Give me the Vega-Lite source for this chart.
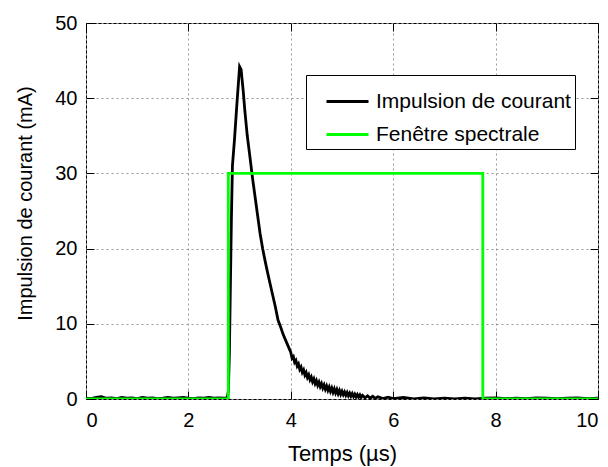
{
  "$schema": "https://vega.github.io/schema/vega-lite/v6.json",
  "width": 512,
  "height": 376,
  "autosize": "none",
  "padding": {"left": 86, "top": 23, "right": 10, "bottom": 68},
  "background": "white",
  "config": {
    "font": "Liberation Sans",
    "view": {"stroke": "black", "strokeWidth": 1},
    "axis": {"labelFont": "Liberation Sans", "titleFont": "Liberation Sans", "labelColor": "black", "titleColor": "black", "titleFontWeight": "normal"}
  },
  "data": {"values": [
    {"s":"Impulsion de courant","t":0,"v":0.1},{"s":"Impulsion de courant","t":0.1,"v":0.05},{"s":"Impulsion de courant","t":0.2,"v":0.2},{"s":"Impulsion de courant","t":0.3,"v":0.3},{"s":"Impulsion de courant","t":0.4,"v":0.1},{"s":"Impulsion de courant","t":0.5,"v":0.15},{"s":"Impulsion de courant","t":0.6,"v":0.05},{"s":"Impulsion de courant","t":0.7,"v":0.2},{"s":"Impulsion de courant","t":0.8,"v":0.1},{"s":"Impulsion de courant","t":0.9,"v":0.15},
    {"s":"Impulsion de courant","t":1.0,"v":0.05},{"s":"Impulsion de courant","t":1.1,"v":0.2},{"s":"Impulsion de courant","t":1.2,"v":0.1},{"s":"Impulsion de courant","t":1.3,"v":0.15},{"s":"Impulsion de courant","t":1.4,"v":0.05},{"s":"Impulsion de courant","t":1.5,"v":0.1},{"s":"Impulsion de courant","t":1.6,"v":0.2},{"s":"Impulsion de courant","t":1.7,"v":0.1},{"s":"Impulsion de courant","t":1.8,"v":0.15},{"s":"Impulsion de courant","t":1.9,"v":0.2},
    {"s":"Impulsion de courant","t":2.0,"v":0.1},{"s":"Impulsion de courant","t":2.1,"v":0.05},{"s":"Impulsion de courant","t":2.2,"v":0.15},{"s":"Impulsion de courant","t":2.3,"v":0.1},{"s":"Impulsion de courant","t":2.4,"v":0.2},{"s":"Impulsion de courant","t":2.5,"v":0.1},{"s":"Impulsion de courant","t":2.6,"v":0.15},{"s":"Impulsion de courant","t":2.7,"v":0.1},{"s":"Impulsion de courant","t":2.76,"v":0.2},
    {"s":"Impulsion de courant","t":2.78,"v":1},{"s":"Impulsion de courant","t":2.8,"v":6},{"s":"Impulsion de courant","t":2.82,"v":15},{"s":"Impulsion de courant","t":2.84,"v":24},{"s":"Impulsion de courant","t":2.86,"v":31},{"s":"Impulsion de courant","t":2.9,"v":34.5},{"s":"Impulsion de courant","t":2.95,"v":39.5},{"s":"Impulsion de courant","t":3.0,"v":44.2},{"s":"Impulsion de courant","t":3.03,"v":43.8},
    {"s":"Impulsion de courant","t":3.07,"v":41},{"s":"Impulsion de courant","t":3.1,"v":38.5},{"s":"Impulsion de courant","t":3.15,"v":35},{"s":"Impulsion de courant","t":3.2,"v":32.3},{"s":"Impulsion de courant","t":3.25,"v":29.5},{"s":"Impulsion de courant","t":3.3,"v":27},{"s":"Impulsion de courant","t":3.35,"v":24.5},{"s":"Impulsion de courant","t":3.4,"v":22},{"s":"Impulsion de courant","t":3.45,"v":20},{"s":"Impulsion de courant","t":3.5,"v":18.3},
    {"s":"Impulsion de courant","t":3.55,"v":16.7},{"s":"Impulsion de courant","t":3.6,"v":15.2},{"s":"Impulsion de courant","t":3.65,"v":13.7},{"s":"Impulsion de courant","t":3.7,"v":12.2},{"s":"Impulsion de courant","t":3.75,"v":10.5},{"s":"Impulsion de courant","t":3.8,"v":9.6},{"s":"Impulsion de courant","t":3.85,"v":8.6},{"s":"Impulsion de courant","t":3.9,"v":7.8},{"s":"Impulsion de courant","t":3.95,"v":7.0},
    {"s":"Impulsion de courant","t":4.0,"v":6.2},{"s":"Impulsion de courant","t":4.025,"v":5.41},{"s":"Impulsion de courant","t":4.05,"v":5.63},{"s":"Impulsion de courant","t":4.075,"v":4.87},{"s":"Impulsion de courant","t":4.1,"v":5.12},{"s":"Impulsion de courant","t":4.125,"v":4.38},{"s":"Impulsion de courant","t":4.15,"v":4.66},{"s":"Impulsion de courant","t":4.175,"v":3.94},{"s":"Impulsion de courant","t":4.2,"v":4.24},{"s":"Impulsion de courant","t":4.225,"v":3.54},
    {"s":"Impulsion de courant","t":4.25,"v":3.86},{"s":"Impulsion de courant","t":4.275,"v":3.18},{"s":"Impulsion de courant","t":4.3,"v":3.52},{"s":"Impulsion de courant","t":4.325,"v":2.86},{"s":"Impulsion de courant","t":4.35,"v":3.21},{"s":"Impulsion de courant","t":4.375,"v":2.56},{"s":"Impulsion de courant","t":4.4,"v":2.92},{"s":"Impulsion de courant","t":4.425,"v":2.29},{"s":"Impulsion de courant","t":4.45,"v":2.67},{"s":"Impulsion de courant","t":4.475,"v":2.05},
    {"s":"Impulsion de courant","t":4.5,"v":2.44},{"s":"Impulsion de courant","t":4.525,"v":1.83},{"s":"Impulsion de courant","t":4.55,"v":2.23},{"s":"Impulsion de courant","t":4.575,"v":1.64},{"s":"Impulsion de courant","t":4.6,"v":2.04},{"s":"Impulsion de courant","t":4.625,"v":1.46},{"s":"Impulsion de courant","t":4.65,"v":1.87},{"s":"Impulsion de courant","t":4.675,"v":1.29},{"s":"Impulsion de courant","t":4.7,"v":1.72},{"s":"Impulsion de courant","t":4.725,"v":1.15},
    {"s":"Impulsion de courant","t":4.75,"v":1.58},{"s":"Impulsion de courant","t":4.775,"v":1.01},{"s":"Impulsion de courant","t":4.8,"v":1.45},{"s":"Impulsion de courant","t":4.825,"v":0.89},{"s":"Impulsion de courant","t":4.85,"v":1.34},{"s":"Impulsion de courant","t":4.875,"v":0.79},{"s":"Impulsion de courant","t":4.9,"v":1.24},{"s":"Impulsion de courant","t":4.925,"v":0.69},{"s":"Impulsion de courant","t":4.95,"v":1.14},{"s":"Impulsion de courant","t":4.975,"v":0.6},
    {"s":"Impulsion de courant","t":5.0,"v":1.02},{"s":"Impulsion de courant","t":5.025,"v":0.57},{"s":"Impulsion de courant","t":5.05,"v":0.93},{"s":"Impulsion de courant","t":5.075,"v":0.49},{"s":"Impulsion de courant","t":5.1,"v":0.86},{"s":"Impulsion de courant","t":5.125,"v":0.43},{"s":"Impulsion de courant","t":5.15,"v":0.78},{"s":"Impulsion de courant","t":5.175,"v":0.37},{"s":"Impulsion de courant","t":5.2,"v":0.71},{"s":"Impulsion de courant","t":5.225,"v":0.32},
    {"s":"Impulsion de courant","t":5.25,"v":0.64},{"s":"Impulsion de courant","t":5.275,"v":0.27},{"s":"Impulsion de courant","t":5.3,"v":0.58},{"s":"Impulsion de courant","t":5.325,"v":0.24},{"s":"Impulsion de courant","t":5.35,"v":0.53},{"s":"Impulsion de courant","t":5.375,"v":0.2},{"s":"Impulsion de courant","t":5.4,"v":0.48},{"s":"Impulsion de courant","t":5.45,"v":0.15},{"s":"Impulsion de courant","t":5.5,"v":0.42},{"s":"Impulsion de courant","t":5.55,"v":0.1},
    {"s":"Impulsion de courant","t":5.6,"v":0.35},{"s":"Impulsion de courant","t":5.65,"v":0.08},{"s":"Impulsion de courant","t":5.7,"v":0.3},{"s":"Impulsion de courant","t":5.8,"v":0.05},{"s":"Impulsion de courant","t":5.9,"v":0.25},{"s":"Impulsion de courant","t":6.0,"v":0.05},{"s":"Impulsion de courant","t":6.2,"v":0.2},{"s":"Impulsion de courant","t":6.4,"v":0.0},{"s":"Impulsion de courant","t":6.6,"v":0.15},{"s":"Impulsion de courant","t":6.8,"v":0.0},
    {"s":"Impulsion de courant","t":7.0,"v":0.1},{"s":"Impulsion de courant","t":7.2,"v":0.0},{"s":"Impulsion de courant","t":7.4,"v":0.1},{"s":"Impulsion de courant","t":7.6,"v":0.0},{"s":"Impulsion de courant","t":7.8,"v":0.1},{"s":"Impulsion de courant","t":8.0,"v":0.15},{"s":"Impulsion de courant","t":8.2,"v":0.05},{"s":"Impulsion de courant","t":8.4,"v":0.1},{"s":"Impulsion de courant","t":8.6,"v":0.05},{"s":"Impulsion de courant","t":8.8,"v":0.15},
    {"s":"Impulsion de courant","t":9.0,"v":0.1},{"s":"Impulsion de courant","t":9.2,"v":0.05},{"s":"Impulsion de courant","t":9.4,"v":0.1},{"s":"Impulsion de courant","t":9.6,"v":0.15},{"s":"Impulsion de courant","t":9.8,"v":0.05},{"s":"Impulsion de courant","t":10,"v":0.1},
    {"s":"Fenêtre spectrale","t":0,"v":0,"i":1},{"s":"Fenêtre spectrale","t":2.78,"v":0,"i":2},{"s":"Fenêtre spectrale","t":2.78,"v":30,"i":3},{"s":"Fenêtre spectrale","t":7.75,"v":30,"i":4},{"s":"Fenêtre spectrale","t":7.75,"v":0,"i":5},{"s":"Fenêtre spectrale","t":10,"v":0,"i":6}
  ]},
  "layer": [
    {
      "mark": {"type": "line", "strokeWidth": 2.8, "clip": true},
      "encoding": {
        "x": {"field": "t", "type": "quantitative", "scale": {"domain": [0, 10], "nice": false},
          "axis": {"orient": "bottom", "title": "Temps (µs)", "values": [0,2,4,6,8,10], "grid": true, "gridColor": "#999", "gridDash": [2,3], "gridWidth": 1,
            "domain": false, "tickSize": -8, "tickColor": "black", "labelFontSize": 20, "labelPadding": 19, "titleFontSize": 22, "titlePadding": 13}},
        "y": {"field": "v", "type": "quantitative", "scale": {"domain": [0, 50], "nice": false},
          "axis": {"orient": "left", "title": "Impulsion de courant (mA)", "values": [0,10,20,30,40,50], "grid": true, "gridColor": "#999", "gridDash": [2,3], "gridWidth": 1,
            "domain": false, "tickSize": -8, "tickColor": "black", "labelFontSize": 20, "labelPadding": 17, "titleFontSize": 20, "titleX": -51, "titleY": 180}},
        "color": {"field": "s", "type": "nominal",
          "scale": {"domain": ["Impulsion de courant", "Fenêtre spectrale"], "range": ["#000000", "#00ff00"]},
          "legend": {"title": null, "orient": "none", "legendX": 220, "legendY": 52, "symbolType": "stroke", "symbolSize": 1764, "symbolStrokeWidth": 2.8, "symbolOffset": 15,
            "labelFontSize": 21, "labelLimit": 400, "labelFont": "Liberation Sans", "labelColor": "black", "strokeColor": "black", "fillColor": "white", "padding": 4, "rowPadding": -6, "labelOffset": 6}},
        "order": {"field": "i", "type": "quantitative"}
      }
    },
    {
      "mark": {"type": "rule", "opacity": 0},
      "encoding": {
        "x": {"field": "t", "type": "quantitative", "axis": {"orient": "top", "title": null, "labels": false, "values": [0,2,4,6,8,10], "domain": false, "tickSize": -8, "tickColor": "black", "grid": false}},
        "y": {"field": "v", "type": "quantitative", "axis": {"orient": "right", "title": null, "labels": false, "values": [0,10,20,30,40,50], "domain": false, "tickSize": -8, "tickColor": "black", "grid": false}}
      }
    }
  ],
  "resolve": {"axis": {"x": "independent", "y": "independent"}}
}
